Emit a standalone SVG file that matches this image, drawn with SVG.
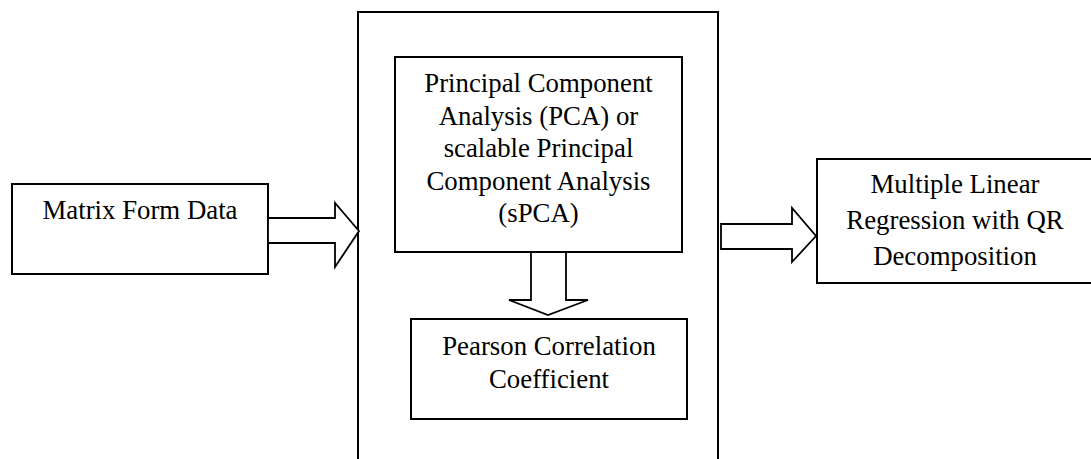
<svg xmlns="http://www.w3.org/2000/svg" width="1091" height="459" viewBox="0 0 1091 459">
<style>
.box{fill:#fff;stroke:#000;stroke-width:2}
.arr{fill:#fff;stroke:#000;stroke-width:1.8;stroke-linejoin:miter}
text{font-family:"Liberation Serif","Times New Roman",serif;font-size:26.8px;fill:#000;text-anchor:middle}
</style>
<rect width="1091" height="459" fill="#fff"/>
<g id="container"><path class="box" d="M358,470 V12 H718 V470" fill="none"/></g>
<g id="matrix">
<rect class="box" x="12" y="184" width="256" height="90"/>
<text x="140" y="219">Matrix Form Data</text>
</g>
<g id="pca">
<rect class="box" x="395" y="57" width="287" height="195"/>
<text x="538.5" y="92">Principal Component</text>
<text x="538.5" y="124.5">Analysis (PCA) or</text>
<text x="538.5" y="157">scalable Principal</text>
<text x="538.5" y="189.5">Component Analysis</text>
<text x="538.5" y="222">(sPCA)</text>
</g>
<g id="pearson">
<rect class="box" x="411" y="319" width="276" height="100"/>
<text x="549" y="355">Pearson Correlation</text>
<text x="549" y="388">Coefficient</text>
</g>
<g id="mlr">
<rect class="box" x="817" y="159" width="290" height="124"/>
<text x="955" y="193">Multiple Linear</text>
<text x="955" y="229">Regression with QR</text>
<text x="955" y="265">Decomposition</text>
</g>
<g id="connectors">
<path class="arr" d="M268,218 H335 V203 L359,231 L335,267 V243 H268 Z"/>
<path class="arr" d="M531,252 V300 H509 L548,315 L588,300 H566 V252 Z"/>
<path class="arr" d="M721,224 H792 V208 L816,236 L792,262 V249 H721 Z"/>
</g>
</svg>
